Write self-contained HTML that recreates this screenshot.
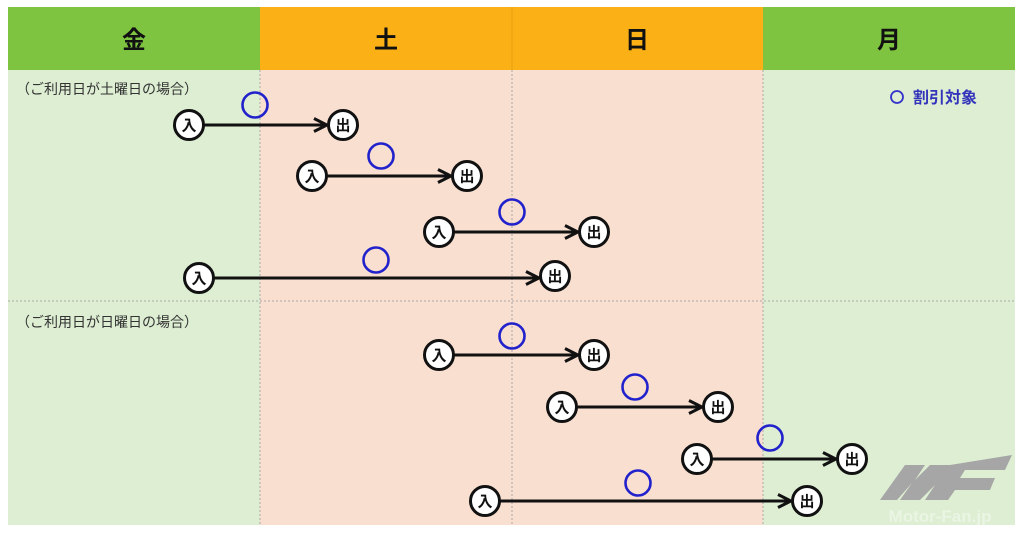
<!DOCTYPE html>
<html><head><meta charset="utf-8"><style>
html,body{margin:0;padding:0;background:#fff;}
svg{display:block;}
text{font-family:"Liberation Sans","Noto Sans CJK JP",sans-serif;}
</style></head><body>
<svg width="1024" height="535" viewBox="0 0 1024 535" xmlns="http://www.w3.org/2000/svg">
<defs>
<marker id="ah" markerWidth="16" markerHeight="16" refX="14" refY="8" orient="auto" markerUnits="userSpaceOnUse">
<path d="M1,1.5 L14,8 L1,14.5" fill="none" stroke="#111" stroke-width="3"/>
</marker>
</defs>
<rect x="8" y="70" width="252" height="455" fill="#ddeed3"/>
<rect x="260" y="70" width="503" height="455" fill="#f9dfd0"/>
<rect x="763" y="70" width="252" height="455" fill="#ddeed3"/>
<rect x="8" y="7" width="252" height="63" fill="#7fc441"/>
<rect x="260" y="7" width="503" height="63" fill="#fbb116"/>
<rect x="763" y="7" width="252" height="63" fill="#7fc441"/>
<line x1="512" y1="7" x2="512" y2="70" stroke="#e9a010" stroke-width="1"/>
<line x1="260" y1="70" x2="260" y2="525" stroke="#aaa" stroke-width="1" stroke-dasharray="2,2"/>
<line x1="512" y1="70" x2="512" y2="525" stroke="#aaa" stroke-width="1" stroke-dasharray="2,2"/>
<line x1="763" y1="70" x2="763" y2="525" stroke="#aaa" stroke-width="1" stroke-dasharray="2,2"/>
<line x1="8" y1="301" x2="1015" y2="301" stroke="#aaa" stroke-width="1" stroke-dasharray="2,2"/>
<g font-size="24" font-weight="bold" fill="#111" text-anchor="middle">
<text x="134" y="48">金</text><text x="386" y="48">土</text><text x="637" y="48">日</text><text x="889" y="48">月</text>
</g>
<text x="16" y="94" font-size="14" fill="#333">（ご利用日が土曜日の場合）</text>
<text x="16" y="327" font-size="14" fill="#333">（ご利用日が日曜日の場合）</text>
<circle cx="897" cy="97" r="6" fill="none" stroke="#33c" stroke-width="1.8"/>
<text x="913" y="103" font-size="16" font-weight="bold" fill="#3333bb">割引対象</text>
<g fill="#a6a6a6">
<polygon points="880,500 905,465 925,465 915,480 930,465 950,465 935,480 950,465 1012,455 1005,470 965,470 960,478 995,478 990,490 955,490 948,500 925,500 935,485 920,500 900,500 912,483 897,500"/>
</g>
<text x="940" y="522" font-size="17" font-weight="bold" fill="#fff" fill-opacity="0.4" text-anchor="middle">Motor-Fan.jp</text>
<g stroke="#111" stroke-width="3" fill="none">
<line x1="203" y1="125" x2="327" y2="125" marker-end="url(#ah)"/>
<line x1="326" y1="176" x2="451" y2="176" marker-end="url(#ah)"/>
<line x1="453" y1="232" x2="578" y2="232" marker-end="url(#ah)"/>
<line x1="213" y1="278" x2="539" y2="278" marker-end="url(#ah)"/>
<line x1="453" y1="355" x2="578" y2="355" marker-end="url(#ah)"/>
<line x1="576" y1="407" x2="702" y2="407" marker-end="url(#ah)"/>
<line x1="711" y1="459" x2="836" y2="459" marker-end="url(#ah)"/>
<line x1="499" y1="501" x2="791" y2="501" marker-end="url(#ah)"/>
</g>
<g stroke="#111" stroke-width="3" fill="#fff">
<circle cx="189" cy="125" r="14.5"/><circle cx="343" cy="125" r="14.5"/>
<circle cx="312" cy="176" r="14.5"/><circle cx="467" cy="176" r="14.5"/>
<circle cx="439" cy="232" r="14.5"/><circle cx="594" cy="232" r="14.5"/>
<circle cx="199" cy="278" r="14.5"/><circle cx="555" cy="276" r="14.5"/>
<circle cx="439" cy="355" r="14.5"/><circle cx="594" cy="355" r="14.5"/>
<circle cx="562" cy="407" r="14.5"/><circle cx="718" cy="407" r="14.5"/>
<circle cx="697" cy="459" r="14.5"/><circle cx="852" cy="459" r="14.5"/>
<circle cx="485" cy="501" r="14.5"/><circle cx="807" cy="501" r="14.5"/>
</g>
<g font-size="15" font-weight="bold" fill="#111" text-anchor="middle">
<text x="189" y="130.5">入</text><text x="343" y="130.5">出</text>
<text x="312" y="181.5">入</text><text x="467" y="181.5">出</text>
<text x="439" y="237.5">入</text><text x="594" y="237.5">出</text>
<text x="199" y="283.5">入</text><text x="555" y="281.5">出</text>
<text x="439" y="360.5">入</text><text x="594" y="360.5">出</text>
<text x="562" y="412.5">入</text><text x="718" y="412.5">出</text>
<text x="697" y="464.5">入</text><text x="852" y="464.5">出</text>
<text x="485" y="506.5">入</text><text x="807" y="506.5">出</text>
</g>
<g stroke="#2222cc" stroke-width="2.6" fill="none">
<circle cx="255" cy="105" r="12.5"/>
<circle cx="381" cy="156" r="12.5"/>
<circle cx="512" cy="212" r="12.5"/>
<circle cx="376" cy="260" r="12.5"/>
<circle cx="512" cy="336" r="12.5"/>
<circle cx="635" cy="387" r="12.5"/>
<circle cx="770" cy="438" r="12.5"/>
<circle cx="638" cy="483" r="12.5"/>
</g>
</svg>
</body></html>
